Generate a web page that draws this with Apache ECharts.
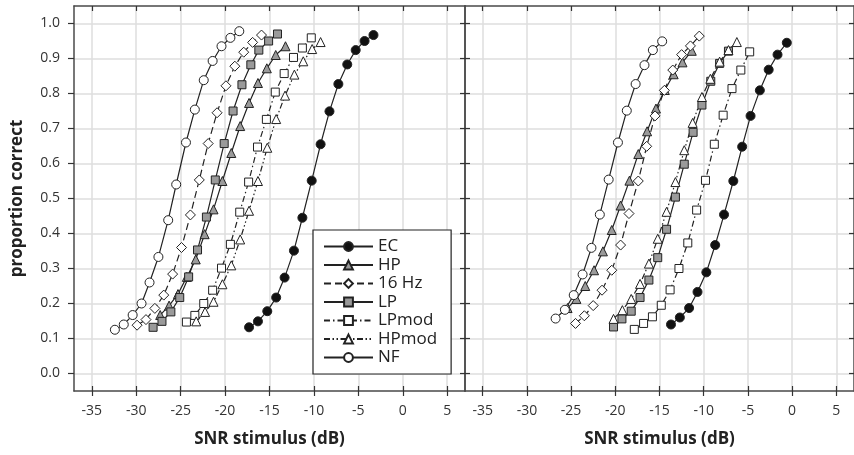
<!DOCTYPE html>
<html>
<head>
<meta charset="utf-8">
<script src="https://cdn.jsdelivr.net/npm/echarts@6/dist/echarts.min.js"></script>
<style>
  html, body { margin: 0; padding: 0; background: #fff; }
  #main { width: 854px; height: 455px; }
</style>
</head>
<body>
<div id="main"></div>
<script>
// tick values
var xTicks = [-35, -30, -25, -20, -15, -10, -5, 0, 5]
var yTicks = [0, 0.1, 0.2, 0.3, 0.4, 0.5, 0.6, 0.7, 0.8, 0.9, 1.0]

var legendNames = ['EC', 'HP', '16 Hz', 'LP', 'LPmod', 'HPmod', 'NF']

// left panel
var nfLX = [-32.4, -31.4, -30.4, -29.4, -28.5, -27.5, -26.4, -25.5, -24.4, -23.4, -22.4, -21.4, -20.4, -19.4, -18.4]
var nfLY = [0.125, 0.14, 0.167, 0.20, 0.26, 0.333, 0.438, 0.54, 0.66, 0.754, 0.838, 0.893, 0.935, 0.959, 0.978]
var hz16LX = [-29.9, -28.9, -27.9, -26.9, -25.9, -24.9, -23.9, -22.9, -21.9, -20.9, -19.9, -18.9, -17.9, -16.9, -15.9]
var hz16LY = [0.138, 0.154, 0.186, 0.224, 0.284, 0.36, 0.453, 0.553, 0.657, 0.745, 0.822, 0.878, 0.918, 0.946, 0.967]
var lpLX = [-28.1, -27.1, -26.1, -25.1, -24.1, -23.1, -22.1, -21.1, -20.1, -19.1, -18.1, -17.1, -16.2, -15.1, -14.1]
var lpLY = [0.132, 0.149, 0.176, 0.217, 0.276, 0.353, 0.447, 0.553, 0.657, 0.75, 0.825, 0.882, 0.924, 0.95, 0.97]
var hpLX = [-27.3, -26.3, -25.3, -24.3, -23.3, -22.3, -21.3, -20.3, -19.3, -18.3, -17.3, -16.3, -15.3, -14.3, -13.2]
var hpLY = [0.167, 0.194, 0.227, 0.276, 0.326, 0.398, 0.469, 0.55, 0.63, 0.707, 0.773, 0.83, 0.872, 0.91, 0.935]
var lpmodLX = [-24.35, -23.4, -22.4, -21.4, -20.4, -19.4, -18.35, -17.35, -16.35, -15.35, -14.35, -13.35, -12.3, -11.3, -10.3]
var lpmodLY = [0.147, 0.166, 0.2, 0.238, 0.301, 0.369, 0.461, 0.547, 0.647, 0.726, 0.804, 0.857, 0.903, 0.93, 0.959]
var hpmodLX = [-23.25, -22.25, -21.3, -20.3, -19.3, -18.3, -17.3, -16.3, -15.25, -14.25, -13.25, -12.2, -11.2, -10.2, -9.25]
var hpmodLY = [0.149, 0.176, 0.205, 0.255, 0.309, 0.383, 0.465, 0.55, 0.645, 0.727, 0.794, 0.854, 0.892, 0.927, 0.947]
var ecLX = [-17.3, -16.3, -15.25, -14.25, -13.3, -12.25, -11.3, -10.25, -9.25, -8.25, -7.25, -6.25, -5.3, -4.3, -3.3]
var ecLY = [0.132, 0.149, 0.178, 0.217, 0.274, 0.351, 0.445, 0.551, 0.655, 0.749, 0.827, 0.883, 0.924, 0.95, 0.967]

// right panel
var nfRX = [-26.75, -25.7, -24.7, -23.7, -22.7, -21.75, -20.75, -19.7, -18.7, -17.7, -16.7, -15.75, -14.7]
var nfRY = [0.157, 0.182, 0.224, 0.283, 0.359, 0.454, 0.554, 0.66, 0.751, 0.827, 0.881, 0.924, 0.949]
var hpRX = [-25.4, -24.4, -23.4, -22.4, -21.4, -20.4, -19.4, -18.4, -17.4, -16.4, -15.4, -14.4, -13.4, -12.4, -11.35]
var hpRY = [0.187, 0.213, 0.25, 0.295, 0.349, 0.41, 0.48, 0.551, 0.627, 0.692, 0.757, 0.81, 0.855, 0.889, 0.922]
var hz16RX = [-24.5, -23.5, -22.5, -21.5, -20.4, -19.4, -18.45, -17.4, -16.45, -15.5, -14.45, -13.5, -12.5, -11.5, -10.5]
var hz16RY = [0.143, 0.165, 0.194, 0.238, 0.295, 0.367, 0.457, 0.55, 0.649, 0.736, 0.809, 0.867, 0.911, 0.936, 0.964]
var lpRX = [-20.2, -19.25, -18.2, -17.2, -16.2, -15.2, -14.2, -13.2, -12.2, -11.2, -10.2, -9.2, -8.2, -7.2]
var lpRY = [0.133, 0.156, 0.178, 0.217, 0.267, 0.331, 0.412, 0.504, 0.598, 0.689, 0.767, 0.835, 0.886, 0.921]
var hpmodRX = [-20.2, -19.2, -18.2, -17.2, -16.2, -15.2, -14.2, -13.2, -12.2, -11.25, -10.2, -9.25, -8.2, -7.2, -6.25]
var hpmodRY = [0.156, 0.181, 0.213, 0.256, 0.314, 0.385, 0.462, 0.547, 0.638, 0.716, 0.79, 0.842, 0.891, 0.924, 0.947]
var lpmodRX = [-17.85, -16.8, -15.8, -14.8, -13.8, -12.8, -11.8, -10.8, -9.8, -8.8, -7.8, -6.8, -5.8, -4.8]
var lpmodRY = [0.126, 0.143, 0.162, 0.195, 0.239, 0.30, 0.373, 0.467, 0.552, 0.655, 0.738, 0.814, 0.867, 0.919]
var ecRX = [-13.7, -12.7, -11.65, -10.7, -9.7, -8.7, -7.7, -6.65, -5.65, -4.7, -3.65, -2.65, -1.65, -0.6]
var ecRY = [0.14, 0.16, 0.187, 0.233, 0.289, 0.367, 0.454, 0.55, 0.648, 0.736, 0.809, 0.868, 0.911, 0.945]

var FONT = 'Open Sans'
var INK = '#222'
var GRAY = '#9a9a9a'

// marker / line look for each condition
var looks = {
  'EC':    { symbol: 'circle',   size: 9,  fill: '#111', dash: 'solid' },
  'HP':    { symbol: 'triangle', size: 9,  fill: GRAY,   dash: 'solid' },
  '16 Hz': { symbol: 'diamond',  size: 10, fill: '#fff', dash: [7, 4] },
  'LP':    { symbol: 'rect',     size: 8,  fill: GRAY,   dash: 'solid' },
  'LPmod': { symbol: 'rect',     size: 8,  fill: '#fff', dash: [6, 3, 1.5, 3] },
  'HPmod': { symbol: 'triangle', size: 9,  fill: '#fff', dash: [6, 2.5, 1.5, 2.5, 1.5, 2.5] },
  'NF':    { symbol: 'circle',   size: 9,  fill: '#fff', dash: 'solid' }
}

var panels = {
  'EC':    [[ecLX, ecLY], [ecRX, ecRY]],
  'HP':    [[hpLX, hpLY], [hpRX, hpRY]],
  '16 Hz': [[hz16LX, hz16LY], [hz16RX, hz16RY]],
  'LP':    [[lpLX, lpLY], [lpRX, lpRY]],
  'LPmod': [[lpmodLX, lpmodLY], [lpmodRX, lpmodRY]],
  'HPmod': [[hpmodLX, hpmodLY], [hpmodRX, hpmodRY]],
  'NF':    [[nfLX, nfLY], [nfRX, nfRY]]
}

function pairs(xs, ys) {
  return xs.map(function (x, i) { return [x, ys[i]] })
}

var series = []
legendNames.forEach(function (name) {
  var lk = looks[name]
  panels[name].forEach(function (p, k) {
    series.push({
      name: name,
      type: 'line',
      xAxisIndex: k === 0 ? 0 : 2,
      yAxisIndex: k === 0 ? 0 : 2,
      data: pairs(p[0], p[1]),
      symbol: lk.symbol,
      symbolSize: lk.size,
      showAllSymbol: true,
      smooth: false,
      silent: true,
      animation: false,
      lineStyle: { color: INK, width: 1.2, type: lk.dash },
      itemStyle: { color: lk.fill, borderColor: INK, borderWidth: 1 },
      z: 3
    })
  })
})

var gridLine = { show: true, lineStyle: { color: '#dedede', width: 1.5 } }
var frameLine = { show: true, onZero: false, lineStyle: { color: '#4a4a4a', width: 1.5 } }
var tickStyle = { color: '#333', width: 1.2 }
var numLabel = { fontFamily: FONT, fontSize: 14, color: '#333' }
var nameFont = { fontFamily: FONT, fontSize: 17, fontWeight: 'bold', color: INK }

function xAx(grid, pos, opts) {
  return Object.assign({
    type: 'value', gridIndex: grid, position: pos, min: -37, max: 7,
    axisLine: frameLine,
    axisTick: { show: true, inside: true, length: 5, customValues: xTicks, lineStyle: tickStyle },
    axisLabel: { show: false, customValues: xTicks },
    splitLine: { show: false }
  }, opts)
}

function yAx(grid, pos, opts) {
  return Object.assign({
    type: 'value', gridIndex: grid, position: pos, min: -0.05, max: 1.05,
    axisLine: frameLine,
    axisTick: { show: true, inside: true, length: 5, customValues: yTicks, lineStyle: tickStyle },
    axisLabel: { show: false, customValues: yTicks },
    splitLine: { show: false }
  }, opts)
}

var bottomMain = {
  axisTick: { show: true, inside: false, length: 5, customValues: xTicks, lineStyle: tickStyle },
  axisLabel: Object.assign({ show: true, margin: 13, customValues: xTicks }, numLabel),
  splitLine: gridLine,
  name: 'SNR stimulus (dB)',
  nameLocation: 'middle',
  nameGap: 40,
  nameTextStyle: nameFont
}

var option = {
  backgroundColor: '#fff',
  animation: false,
  grid: [
    { left: 74, top: 6, width: 391, height: 385 },
    { left: 465, top: 6, width: 391, height: 385 },
    // overlays only used for the inward half of the bottom ticks
    { left: 74, top: 6, width: 391, height: 385 },
    { left: 465, top: 6, width: 391, height: 385 }
  ],
  xAxis: [
    xAx(0, 'bottom', bottomMain),
    xAx(0, 'top', {}),
    xAx(1, 'bottom', bottomMain),
    xAx(1, 'top', {}),
    xAx(2, 'bottom', { axisLine: { show: false, onZero: false } }),
    xAx(3, 'bottom', { axisLine: { show: false, onZero: false } })
  ],
  yAxis: [
    yAx(0, 'left', {
      axisTick: { show: true, inside: false, length: 6, customValues: yTicks, lineStyle: tickStyle },
      axisLabel: Object.assign({
        show: true, margin: 14, customValues: yTicks,
        formatter: function (v) { return v.toFixed(1) }
      }, numLabel),
      splitLine: gridLine,
      name: 'proportion correct',
      nameLocation: 'middle',
      nameGap: 48,
      nameTextStyle: nameFont
    }),
    yAx(0, 'right', {}),
    yAx(1, 'left', { splitLine: gridLine }),
    yAx(1, 'right', {}),
    yAx(2, 'left', { show: false }),
    yAx(3, 'left', { show: false })
  ],
  legend: {
    data: legendNames,
    orient: 'vertical',
    left: 313,
    top: 230,
    padding: [8, 14, 8, 10],
    itemWidth: 49,
    itemHeight: 11,
    itemGap: 1.5,
    backgroundColor: '#fff',
    borderColor: INK,
    borderWidth: 1.2,
    borderRadius: 0,
    selectedMode: false,
    textStyle: { fontFamily: FONT, fontSize: 17, color: INK, lineHeight: 17, padding: [0, 0, 0, 0] },
    z: 10
  },
  series: series
}

var chart = echarts.init(document.getElementById('main'), null, { renderer: 'canvas' })
chart.setOption(option)
</script>
</body>
</html>
